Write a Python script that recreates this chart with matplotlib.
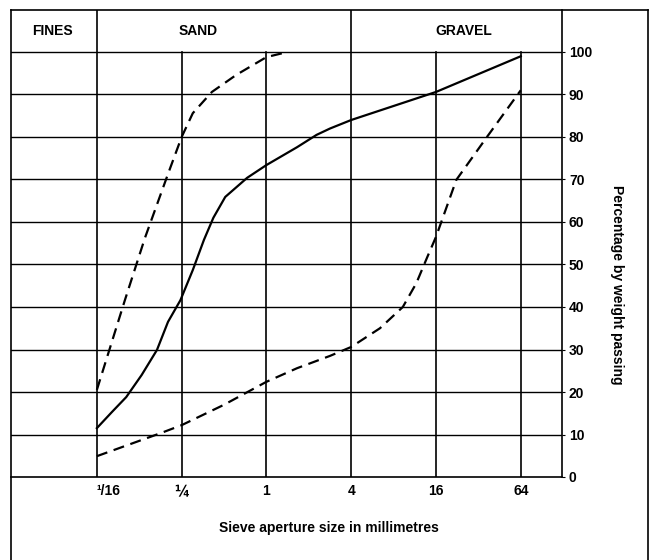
import matplotlib
matplotlib.use("Agg")
import matplotlib.pyplot as plt
from matplotlib.lines import Line2D

# sieve sizes (mm) and percentage passing
well_size = [0.0625, 0.08, 0.101, 0.13, 0.167, 0.2, 0.245, 0.3, 0.36, 0.42,
             0.51, 0.73, 1.0, 1.65, 2.27, 2.83, 4.0, 8.0, 16.0, 32.0, 64.0]
well_pass = [11.5, 15.3, 18.8, 24.0, 29.9, 36.5, 41.6, 48.7, 55.8, 61.0,
             65.9, 70.4, 73.4, 77.6, 80.5, 82.0, 84.0, 87.3, 90.6, 94.8, 99.0]

fine_size = [0.0625, 0.0988, 0.137, 0.201, 0.25, 0.30, 0.41, 0.61, 1.0, 1.41]
fine_pass = [20.5, 41.6, 56.2, 71.5, 80.0, 85.6, 90.6, 94.6, 98.8, 100.0]

coarse_size = [0.0625, 0.18, 0.25, 0.5, 1.0, 1.65, 2.83, 4.0, 6.4, 9.3,
               11.6, 13.9, 16.0, 22.3, 36.8, 64.0]
coarse_pass = [4.9, 10.4, 12.2, 17.0, 22.4, 25.6, 28.5, 30.6, 35.0, 40.0,
               45.6, 51.8, 56.5, 69.9, 80.0, 91.0]

x_ticks = [1 / 16, 1 / 4, 1, 4, 16, 64]
x_labels = ["\u00b9/16", "\u00bc", "1", "4", "16", "64"]
y_ticks = list(range(0, 101, 10))

zones = ["FINES", "SAND", "GRAVEL"]
zone_x = [0.03, 0.33, 25.0]  # label centres in mm

plt.rcParams["font.family"] = ["Liberation Sans", "DejaVu Sans"]
plt.rcParams["font.weight"] = "bold"
plt.rcParams["font.size"] = 9.5

W, H = 653, 560
fig = plt.figure(figsize=(W / 100, H / 100), dpi=100)

# axes box in pixels: left 11, right 562, bottom 477, top 10
ax = fig.add_axes([11 / W, (H - 477) / H, (562 - 11) / W, (477 - 10) / H])
ytop = 100 * (477 - 10) / (477 - 52)
ax.set_xscale("log")
ax.set_xlim(0.01535, 125.6)
ax.set_ylim(0, ytop)

# grid
for y in y_ticks[1:]:
    ax.axhline(y, color="black", lw=1.0)
for xv in x_ticks:
    top = 1.0 if xv in (1 / 16, 4) else 100 / ytop
    ax.axvline(xv, ymin=0, ymax=top, color="black", lw=1.2)

# curves
ax.plot(well_size, well_pass, color="black", lw=1.6, solid_joinstyle="round")
ax.plot(fine_size, fine_pass, color="black", lw=1.6, dashes=(5, 3))
ax.plot(coarse_size, coarse_pass, color="black", lw=1.6, dashes=(5, 3))

# zone header
header_y = 100 + (ytop - 100) / 2
for name, xc in zip(zones, zone_x):
    ax.text(xc, header_y, name, ha="center", va="center", fontsize=10)

for side in ["left", "top"]:
    ax.spines[side].set_visible(False)
ax.spines["right"].set_linewidth(1.2)
ax.spines["bottom"].set_linewidth(1.2)

ax.set_xticks(x_ticks)
ax.set_xticklabels(x_labels)
ax.minorticks_off()
ax.tick_params(axis="x", length=0, pad=5, labelsize=10)
ax.set_yticks(y_ticks)
ax.yaxis.tick_right()
ax.tick_params(axis="y", length=2, pad=3, labelsize=10)
xl = ax.get_xticklabels()
xl[0].set_horizontalalignment("left")
xl[1].set_family("DejaVu Sans")
xl[1].set_fontsize(10.5)

fig.text(329 / W, 1 - 528 / H, "Sieve aperture size in millimetres",
         ha="center", va="center", fontsize=10)
fig.text(617 / W, 1 - 285 / H, "Percentage by weight passing",
         ha="center", va="center", rotation=-90, fontsize=10)

# outer frame
for xs, ys in [([11, 11], [10, H]), ([648, 648], [10, H]), ([11, 648], [10, 10])]:
    fig.add_artist(Line2D([v / W for v in xs], [1 - v / H for v in ys],
                          color="black", lw=1.2))

fig.savefig("out.png", dpi=100, facecolor="white")
